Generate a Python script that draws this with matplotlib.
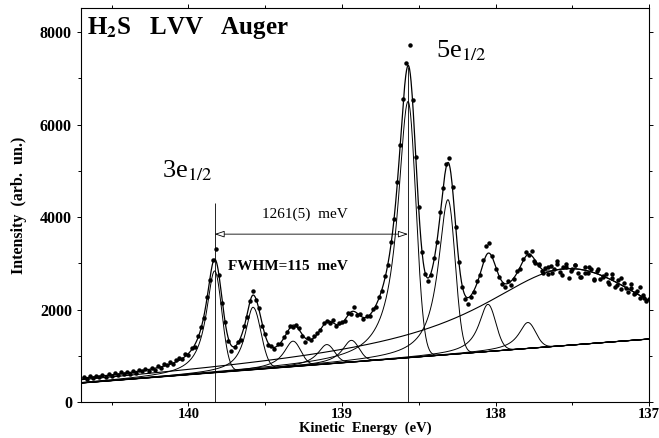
import numpy as np
import matplotlib
matplotlib.use('Agg')
import matplotlib.pyplot as plt

plt.rcParams['font.family'] = 'Liberation Serif'
plt.rcParams['mathtext.fontset'] = 'stix'

scan_e = np.linspace(140.68, 137.0, 185)
scan_i = [540, 500, 560, 520, 570, 530, 590, 540, 600, 560,
          620, 580, 640, 600, 650, 610, 680, 630, 690, 660,
          710, 680, 740, 700, 780, 740, 820, 790, 860, 830,
          900, 950, 920, 1040, 1020, 1160, 1200, 1420, 1620, 1810,
          2280, 2640, 3080, 3300, 2740, 2150, 1740, 1320, 1100, 1180,
          1290, 1350, 1640, 1840, 2190, 2390, 2200, 2030, 1650, 1470,
          1240, 1210, 1150, 1250, 1260, 1400, 1520, 1640, 1620, 1670,
          1590, 1430, 1300, 1380, 1330, 1420, 1500, 1550, 1700, 1760,
          1710, 1780, 1640, 1700, 1740, 1750, 1920, 1910, 2050, 1880,
          1900, 1790, 1870, 1850, 2010, 2050, 2280, 2400, 2720, 2960,
          3470, 3950, 4760, 5560, 6560, 7340, 7720, 6520, 5290, 4210,
          3240, 2760, 2620, 2740, 3110, 3470, 4100, 4630, 5150, 5270,
          4660, 3790, 3020, 2480, 2230, 2120, 2260, 2380, 2610, 2740,
          3060, 3380, 3440, 3150, 2880, 2700, 2560, 2480, 2620, 2530,
          2650, 2830, 2880, 3100, 3240, 3180, 3260, 3000, 2990, 2830,
          2900, 2760, 2950, 2870, 3050, 2810, 2930, 2980, 2690, 2870,
          2960, 2800, 2710, 2930, 2780, 2870, 2650, 2830, 2670, 2700,
          2760, 2560, 2690, 2480, 2630, 2450, 2580, 2380, 2470, 2330,
          2400, 2250, 2310, 2190, 2230]
# second, interleaved scan over the broad hump
scan2_e = np.linspace(137.75, 137.03, 25)
scan2_i = [3050, 2960, 2780, 2930, 2800, 2980, 2740, 2920, 2830, 2960,
           2710, 2800, 2920, 2640, 2870, 2720, 2590, 2770, 2520, 2690,
           2460, 2560, 2350, 2480, 2240]

# fit parameters (eV, counts above baseline, high-energy HWHM, low-energy HWHM)
peak_pos = [139.83, 139.58, 139.32, 139.10, 138.94, 138.57, 138.31, 138.05, 137.79]
peak_amp = [2200, 1350, 550, 420, 470, 5540, 3350, 1020, 560]
peak_wl = [0.065, 0.060, 0.070, 0.070, 0.070, 0.080, 0.075, 0.070, 0.070]
peak_wr = [0.055, 0.060, 0.060, 0.060, 0.060, 0.060, 0.055, 0.060, 0.060]
hump = [137.55, 1660, 0.67, 0.55]
base_ends = [410, 1362]   # baseline at 140.70 and 137.00

def shape(e, c, a, wl, wr):
    # lorentzian tail on the high energy side, gaussian on the low side
    d = e - c
    return np.where(d > 0, a / (1 + (d / wl) ** 2), a * np.exp(-np.log(2) * (d / wr) ** 2))

def baseline(e):
    return base_ends[0] + (140.70 - e) / 3.70 * (base_ends[1] - base_ends[0])

E = np.linspace(140.70, 137.0, 1500)
B = baseline(E)
H = shape(E, *hump)
total = B + H
comps = []
for c, a, wl, wr in zip(peak_pos, peak_amp, peak_wl, peak_wr):
    p = shape(E, c, a, wl, wr)
    comps.append(p)
    total = total + p

fig = plt.figure(figsize=(6.59, 4.38), dpi=100)
ax = fig.add_axes([0.1229, 0.0822, 0.862, 0.8995])

ax.plot(scan_e, scan_i, 'o', color='black', ms=2.2)
ax.plot(scan2_e, scan2_i, 'o', color='black', ms=2.2)
ax.plot(E, total, color='black', lw=0.9)
ax.plot(E, B, color='black', lw=0.9)
ax.plot(E, B + H, color='black', lw=0.8)
for p in comps:
    ax.plot(E, B + p, color='black', lw=0.7)

ax.vlines([peak_pos[0]], 0, 4300, color='black', lw=0.6)
ax.vlines([peak_pos[5]], 0, 7250, color='black', lw=0.6)
ax.annotate('', xy=(peak_pos[0], 3630), xytext=(peak_pos[5], 3630),
            arrowprops=dict(arrowstyle='<|-|>,head_length=0.6,head_width=0.2',
                            fc='white', ec='black', lw=0.6, shrinkA=0, shrinkB=0))

ax.text(140.66, 7950, r'H$_\mathbf{2}$S   LVV   Auger', fontsize=18, fontweight='bold')
ax.text(138.39, 7450, r'5e$_{1/2}$', fontsize=19)
ax.text(140.17, 4850, r'3e$_{1/2}$', fontsize=19)
ax.text(139.52, 3980, '1261(5)  meV', fontsize=11)
ax.text(139.74, 2850, 'FWHM=115  meV', fontsize=11, fontweight='bold')

ax.set_xlim(140.70, 137.0)
ax.set_ylim(0, 8520)
ax.set_xticks([140, 139, 138, 137])
ax.set_xticks([140.5, 139.5, 138.5, 137.5], minor=True)
ax.set_yticks([0, 2000, 4000, 6000, 8000])
ax.set_yticks([1000, 3000, 5000, 7000], minor=True)
ax.tick_params(which='both', direction='out', top=True, right=True, labelsize=11.5, length=3, width=0.7)
ax.tick_params(which='minor', length=2)
ax.tick_params(axis='x', labelsize=10.5, pad=1)
for lab in ax.get_xticklabels() + ax.get_yticklabels():
    lab.set_fontweight('bold')
for s in ax.spines.values():
    s.set_linewidth(0.8)
ax.set_xlabel('Kinetic  Energy  (eV)', fontsize=10.5, fontweight='bold', labelpad=0.5)
ax.set_ylabel('Intensity  (arb.  un.)', fontsize=11.5, fontweight='bold', labelpad=9)

fig.savefig('out.png', dpi=100)
